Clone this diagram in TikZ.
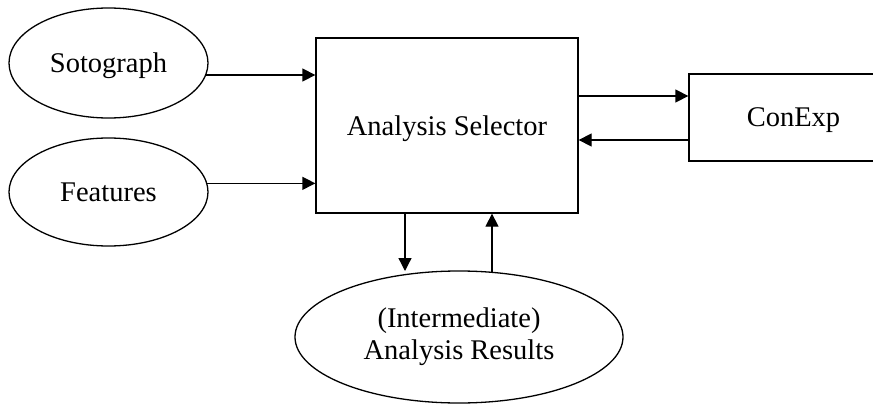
\documentclass[tikz,border=0pt]{standalone}
\usepackage{fontspec}
\setmainfont{Liberation Serif}
\usetikzlibrary{shapes.geometric,arrows.meta,calc}
\tikzset{
  base/.style={draw=black, line width=1.3pt, inner sep=0pt, font=\fontsize{28.5}{32}\selectfont},
  oval/.style={base, ellipse},
  box/.style={base, rectangle},
  arr/.style={line width=1.3pt, -{Triangle[length=13pt,width=13pt]}},
}
\begin{document}
\begin{tikzpicture}[x=1pt,y=-1pt]
\useasboundingbox (0,0) rectangle (873,404);
\node[oval, minimum width=199pt, minimum height=110pt, text depth=0pt] (soto) at (108.5,63) {Sotograph};
\node[oval, minimum width=199pt, minimum height=108pt] (feat) at (108.5,192) {Features};
\node[box, minimum width=262pt, minimum height=175pt, text depth=0pt] (sel) at (447,125.5) {Analysis Selector};
\node[box, minimum width=209pt, minimum height=87pt, text depth=0pt] (con) at (793.5,117.5) {ConExp};
\node[oval, minimum width=328pt, minimum height=132pt, align=center] (res) at (459,337) {(Intermediate)\\Analysis Results};
\coordinate (r1) at (600,96);
\coordinate (r2) at (600,140);
\coordinate (d1) at (405,271);
\coordinate (u1) at (492,272);
\draw[arr] (soto.-7) -- (soto.-7 -| sel.west);
\draw[arr] (feat.5.5) -- (feat.5.5 -| sel.west);
\draw[arr] (r1 -| sel.east) -- (r1 -| con.west);
\draw[arr] (r2 -| con.west) -- (r2 -| sel.east);
\draw[arr] (d1 |- sel.south) -- (d1);
\draw[arr] (u1) -- (u1 |- sel.south);
\end{tikzpicture}
\end{document}
